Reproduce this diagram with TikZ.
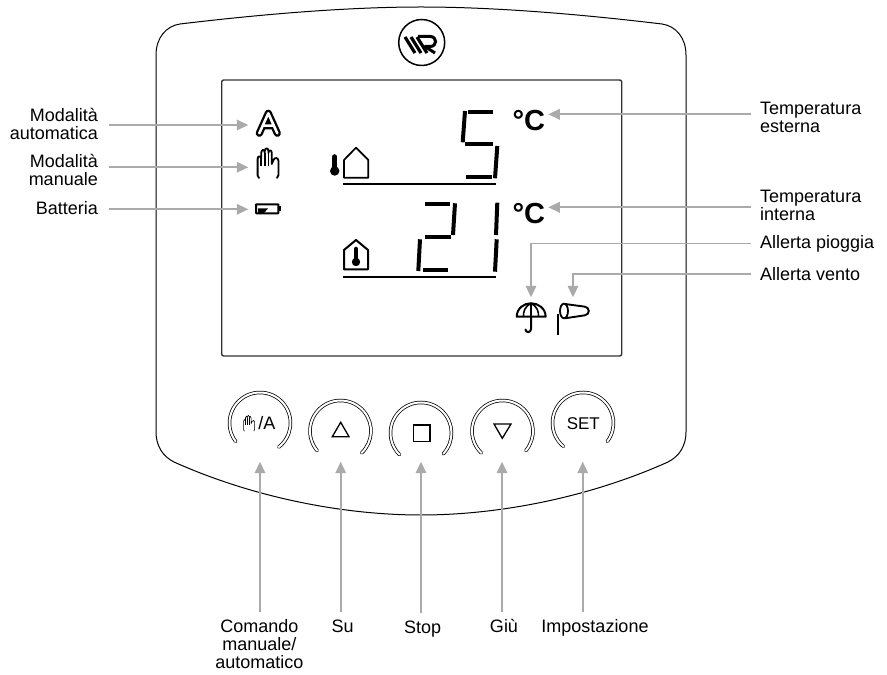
\documentclass[tikz,border=0pt]{standalone}
\usepackage{fontspec}
\setmainfont{Liberation Sans}
\usetikzlibrary{arrows.meta,calc}
\definecolor{leadgray}{RGB}{170,170,170}
\definecolor{framegray}{RGB}{50,50,50}
\tikzset{
    leadline/.style={draw=leadgray, line width=1.7pt, -{Triangle[length=11.5pt,width=10.5pt]}},
    labeltext/.style={font=\fontsize{18}{18}\selectfont, inner sep=0pt},
    leftlabel/.style={labeltext, align=right, inner xsep=11pt},
    rightlabel/.style={labeltext, align=left, inner xsep=9.3pt},
    bottomlabel/.style={labeltext, align=center, anchor=north, inner ysep=8pt},
    ringline/.style={line width=.75pt, double, double distance=2pt, line cap=round},
    segment/.style={line width=4pt, line cap=butt},
    handicon/.pic={
        \draw[line cap=round, line join=round] (2,0) -- (0.6,2.5) -- (0.6,19) .. controls (0.6,22.5) and (4.2,22.5) .. (4.2,19) -- (4.2,25) .. controls (4.2,29) and (7.8,29) .. (7.8,25) -- (7.8,27) .. controls (7.8,30.5) and (11.4,30.5) .. (11.4,27) -- (11.4,25) .. controls (11.4,28.5) and (14.8,28.5) .. (14.8,25) -- (14.8,14) -- (16.5,18) .. controls (17.5,21) and (21.5,20.5) .. (21.5,17) -- (21.5,3) -- (20,0);
        \draw (4.2,19) -- (4.2,12) (7.8,25) -- (7.8,12) (11.4,25) -- (11.4,12);
    }
}

\begin{document}
\begin{tikzpicture}[x=1pt, y=1pt]
    \useasboundingbox (0,0) rectangle (887,675);

    % body and display
    \draw[line width=1pt] (156,620) .. controls (156,637) and (166,649) .. (180,651) .. controls (280,663) and (360,668) .. (421,668) .. controls (482,668) and (562,663) .. (662,651) .. controls (676,649) and (686,637) .. (686,620) -- (686,243) .. controls (686,230) and (680,219) .. (668,213) .. controls (590,178) and (500,160) .. (421,160) .. controls (342,160) and (252,178) .. (174,213) .. controls (162,219) and (156,230) .. (156,243) -- cycle;
    \draw[draw=framegray, line width=1.4pt, rounded corners=2pt] (221.7,319) rectangle (621.7,595);

    % logo
    \draw[line width=1.5pt] (421.7,632.5) circle (23pt);
    \draw[line width=3.2pt] (405,638) -- (415,622) (411,638) -- (421,622) (417,638) -- (427,622);
    \draw[line width=3pt, line join=round] (418,638.5) -- (430,638.5) .. controls (437.5,638.5) and (437.5,628.5) .. (430,628.5) -- (425,628.5) -- (435,622);

    % icons on the left
    \draw[line width=7.2pt, line cap=round, line join=round] (259.3,541.7) -- (268.3,561.7) -- (277.3,541.7) (263,549.3) -- (273.6,549.3);
    \draw[white, line width=2.6pt, line cap=round, line join=round] (259.3,541.7) -- (268.3,561.7) -- (277.3,541.7) (263,549.3) -- (273.6,549.3);
    \pic[line width=1.8pt] at (257,497) {handicon};
    \draw[line width=2pt, rounded corners=.5pt] (256,461.7) rectangle (278.3,470.7);
    \fill (279,463.5) rectangle (281,469);
    \fill (258,466.5) -- (268,466.5) -- (264,462) -- (258,462) -- cycle;

    % outside temperature
    \draw[line width=5.5pt, line cap=round] (334.7,504) -- (334.7,518);
    \fill (334.7,504) circle (4.7pt);
    \draw[line width=1.7pt, line join=round] (344,497.3) -- (344,515) -- (356,527.3) -- (368.3,515) -- (368.3,497.3) -- cycle;
    \draw[line width=2.3pt] (343.3,490.7) -- (496,490.7);
    \foreach \ya/\xa/\yb/\xb in {563.3/468.3/563.3/493.3, 564/465/532.7/462.7, 530.7/465/530.7/493.3, 529/497.3/496.7/495, 497.7/466/497.7/491.7}
        \draw[segment] (\xa,\ya) -- (\xb,\yb);
    \node[anchor=base, font=\fontsize{29}{29}\selectfont\bfseries, inner sep=0pt] (unitExt) at (528.8,544.5) {°C};

    % inside temperature
    \draw[line width=2pt, line join=round] (344,405.7) -- (344,425) -- (356,435) -- (368,425) -- (368,405.7) -- cycle;
    \draw[line width=4.5pt, line cap=round] (356,413) -- (356,426);
    \fill (356,413) circle (4.2pt);
    \draw[line width=2.3pt] (343.3,397.7) -- (496,397.7);
    \foreach \ya/\xa/\yb/\xb in {470.7/425/470.7/450, 471.7/455/440/453, 438/425/438/451, 435.7/420/404/418.3, 404.7/423.3/404.7/448.3, 472.3/497.3/440/496, 435.7/496.7/403.3/495}
        \draw[segment] (\xa,\ya) -- (\xb,\yb);
    \node[anchor=base, font=\fontsize{29}{29}\selectfont\bfseries, inner sep=0pt] (unitInt) at (528.8,451) {°C};

    % umbrella
    \draw[line width=2pt, line join=round] (516.7,358.3) .. controls (517,367) and (524,371.7) .. (531,371.7) .. controls (538,371.7) and (545.4,367) .. (545.7,358.3) -- cycle;
    \draw[line width=1.6pt] (531,371.7) -- (531,358.3) (531,371.7) .. controls (525,369) and (523,363) .. (523.5,358.3) (531,371.7) .. controls (537,369) and (539,363) .. (538.5,358.3);
    \draw[line width=2pt, line cap=round] (531,358.3) -- (531,346) .. controls (531,342) and (525.5,342) .. (525.5,345.5);

    % wind sock
    \draw[line width=2pt] (558.3,340) -- (558.3,360.7);
    \draw[line width=1.8pt] (564,364) ellipse (4pt and 7.3pt);
    \draw[line width=1.9pt] (565,371) -- (585,368.3) .. controls (590,367.5) and (590,360.5) .. (585,359.7) -- (565,356.7);

    % buttons
    \coordinate (btnHand) at (260,252);
    \coordinate (btnUp) at (340.5,244);
    \coordinate (btnStop) at (421,242);
    \coordinate (btnDown) at (502.5,244);
    \coordinate (btnSet) at (583,252);
    \foreach \btn/\from/\to in {btnHand/217/-52, btnUp/220/-46, btnStop/225/-43, btnDown/226/-40, btnSet/230/-37}
        \draw[ringline] (\btn) ++(\from:30.5pt) arc (\from:\to:30.5pt);
    \pic[line width=.6pt] at (243.3,244) [scale=.53] {handicon};
    \node[anchor=base, font=\fontsize{18}{18}\selectfont, inner sep=0pt] (btnHandText) at (266.8,245) {/A};
    \draw[line width=1.3pt, line join=miter] (332.3,238.3) -- (349,238.3) -- (340.7,252.7) -- cycle;
    \draw[line width=1.3pt] (413.3,233.3) rectangle (430,250);
    \draw[line width=1.3pt, line join=miter] (494,251) -- (511,251) -- (502.3,236.7) -- cycle;
    \node[anchor=base, font=\fontsize{17}{17}\selectfont, inner sep=0pt] (btnSetText) at (583.3,245.7) {SET};

    % arrow tips
    \coordinate (tipAuto) at (248.3,550);
    \coordinate (tipManual) at (248.3,507.7);
    \coordinate (tipBatt) at (248.3,465.7);
    \coordinate (tipExt) at (548.3,560.7);
    \coordinate (tipInt) at (548.3,467.7);
    \coordinate (tipRain) at (531,377.7);
    \coordinate (tipWind) at (573,377.7);
    \coordinate (tipHand) at (260,213.3);
    \coordinate (tipUp) at (340.7,213.3);
    \coordinate (tipStop) at (421,213.3);
    \coordinate (tipDown) at (502,213.3);
    \coordinate (tipSet) at (582.7,213.3);

    % labels
    \node[leftlabel, anchor=east] (lblAuto) at (109,550.8) {Modalità\\automatica};
    \node[leftlabel, anchor=east] (lblManual) at (109,505.4) {Modalità\\manuale};
    \node[leftlabel, anchor=base east] (lblBatt) at (109,460) {Batteria};
    \node[rightlabel, anchor=west] (lblExt) at (750.7,557.6) {Temperatura\\esterna};
    \node[rightlabel, anchor=west] (lblInt) at (750.7,469.6) {Temperatura\\interna};
    \node[rightlabel, anchor=base west] (lblRain) at (750.7,426.7) {Allerta pioggia};
    \node[rightlabel, anchor=base west] (lblWind) at (750.7,394.3) {Allerta vento};
    \node[bottomlabel] (lblHand) at (259.3,63.3) {Comando\\manuale/\\automatico};
    \node[bottomlabel, text height=13pt] (lblUp) at (342.7,63.3) {Su};
    \node[bottomlabel, text height=13pt] (lblStop) at (422.7,62.3) {Stop};
    \node[bottomlabel, text height=13pt] (lblDown) at (504,63.3) {Giù};
    \node[bottomlabel, text height=13pt] (lblSet) at (595,63.3) {Impostazione};

    % connectors
    \draw[leadline] (lblAuto.east |- tipAuto) -- (tipAuto);
    \draw[leadline] (lblManual.east |- tipManual) -- (tipManual);
    \draw[leadline] (lblBatt.east |- tipBatt) -- (tipBatt);
    \draw[leadline] (lblExt.west |- tipExt) -- (tipExt);
    \draw[leadline] (lblInt.west |- tipInt) -- (tipInt);
    \draw[leadline] (lblRain.west) -| (tipRain);
    \draw[leadline] (lblWind.west) -| (tipWind);
    \draw[leadline] (tipHand |- lblHand.north) -- (tipHand);
    \draw[leadline] (tipUp |- lblUp.north) -- (tipUp);
    \draw[leadline] (tipStop |- lblStop.north) -- (tipStop);
    \draw[leadline] (tipDown |- lblDown.north) -- (tipDown);
    \draw[leadline] (tipSet |- lblSet.north) -- (tipSet);
\end{tikzpicture}
\end{document}
